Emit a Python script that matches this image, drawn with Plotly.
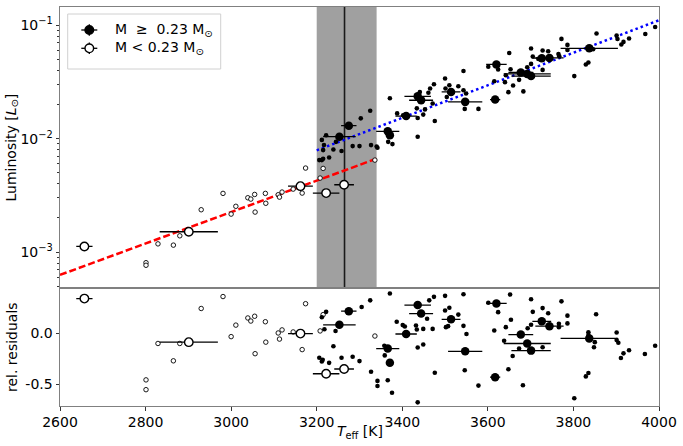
import plotly.graph_objects as go
from plotly.subplots import make_subplots

# ---------------- data ----------------
# massive stars (M >= 0.23 Msun), large symbols with x error bars
big_hi_T = [3253, 3275, 3366, 3371, 3409, 3436, 3444, 3514, 3547, 3617, 3620, 3677, 3692, 3701, 3726, 3744, 3837]
big_hi_Terr = [38, 18, 27, 8, 25, 31, 28, 22, 40, 12, 24, 29, 55, 46, 22, 33, 67]
big_hi_L = [1.04e-2, 1.30e-2, 1.16e-2, 1.07e-2, 1.58e-2, 2.36e-2, 2.18e-2, 2.58e-2, 2.11e-2, 2.21e-2,
            4.51e-2, 3.83e-2, 3.72e-2, 3.56e-2, 5.12e-2, 5.15e-2, 6.26e-2]
big_hi_res = [0.083, 0.217, -0.15, -0.29, -0.007, 0.277, 0.193, 0.137, -0.177, -0.43,
              0.293, -0.013, -0.10, -0.17, 0.117, 0.07, -0.05]

# low-mass stars (M < 0.23 Msun), large symbols with x error bars
big_lo_T = [2657, 2901, 3162, 3222, 3264]
big_lo_Terr = [19, 68, 29, 31, 23]
big_lo_L = [1.12e-3, 1.51e-3, 3.81e-3, 3.31e-3, 3.92e-3]
big_lo_res = [0.34, -0.087, -0.003, -0.397, -0.35]

# small open symbols (M < 0.23 Msun)
sm_lo_T = [2801, 2801, 2829, 2865, 2880, 2930, 2981, 3000, 3011, 3039, 3046, 3055, 3056, 3080,
           3081, 3110, 3113, 3119, 3145, 3166, 3174, 3208, 3215, 3336]
sm_lo_L = [8.05e-4, 7.64e-4, 1.18e-3, 1.15e-3, 1.39e-3, 2.36e-3, 3.29e-3, 2.16e-3, 2.53e-3, 3.01e-3,
           2.93e-3, 3.22e-3, 2.25e-3, 3.29e-3, 2.69e-3, 3.20e-3, 3.05e-3, 3.38e-3, 3.59e-3, 3.31e-3,
           5.50e-3, 4.49e-3, 5.46e-3, 6.47e-3]
sm_lo_res = [-0.457, -0.553, -0.10, -0.27, -0.10, 0.243, 0.36, -0.033, 0.08, 0.15, 0.12, 0.167, -0.20,
             0.113, -0.087, 0.003, -0.057, 0.033, 0.013, -0.16, 0.29, 0.023, 0.183, -0.027]

# small filled symbols (M >= 0.23 Msun), luminosity panel
sm_hi_T = [3206, 3212, 3215, 3229, 3212, 3222, 3215, 3217, 3245, 3239, 3258, 3303, 3325, 3284, 3300,
           3327, 3340, 3342, 3367, 3377, 3371, 3388, 3402, 3436, 3436, 3434, 3453, 3449, 3476, 3471,
           3441, 3465, 3474, 3461, 3500, 3510, 3531, 3543, 3501, 3504, 3543, 3549, 3546, 3578, 3601,
           3624, 3650, 3615, 3640, 3648, 3659, 3673, 3683, 3642, 3653, 3692, 3701, 3705, 3701, 3728,
           3741, 3728, 3718, 3765, 3767, 3772, 3786, 3786, 3802, 3829, 3835, 3846, 3854, 3901, 3903,
           3912, 3917, 3930, 3968, 3991]
sm_hi_L = [6.47e-3, 6.47e-3, 6.64e-3, 6.82e-3, 9.75e-3, 1.07e-2, 7.92e-3, 8.77e-3, 9.37e-3, 8.03e-3,
           7.77e-3, 1.51e-2, 1.76e-2, 8.59e-3, 8.59e-3, 8.77e-3, 8.53e-3, 8.30e-3, 9.37e-3, 8.95e-3,
           2.27e-2, 1.67e-2, 1.61e-2, 1.52e-2, 1.04e-2, 1.85e-2, 1.81e-2, 1.63e-2, 1.43e-2, 2.04e-2,
           2.58e-2, 2.77e-2, 3.02e-2, 2.54e-2, 3.39e-2, 2.96e-2, 2.90e-2, 3.95e-2, 2.77e-2, 2.33e-2,
           2.67e-2, 2.50e-2, 1.83e-2, 1.83e-2, 4.30e-2, 4.07e-2, 5.70e-2, 3.21e-2, 3.15e-2, 2.57e-2,
           2.94e-2, 3.30e-2, 2.61e-2, 3.62e-2, 4.09e-2, 4.26e-2, 4.56e-2, 5.30e-2, 6.24e-2, 5.99e-2,
           5.90e-2, 4.04e-2, 5.05e-2, 5.58e-2, 5.33e-2, 7.58e-2, 6.71e-2, 6.05e-2, 3.56e-2, 4.51e-2,
           4.69e-2, 6.15e-2, 8.45e-2, 8.11e-2, 7.57e-2, 6.76e-2, 7.13e-2, 7.64e-2, 8.38e-2, 9.66e-2]

# small filled symbols (M >= 0.23 Msun), residual panel
smr_hi_T = [3222, 3212, 3218, 3244, 3305, 3325, 3239, 3206, 3214, 3212, 3229, 3258, 3284, 3300, 3327,
            3342, 3342, 3366, 3376, 3359, 3358, 3371, 3387, 3401, 3406, 3436, 3449, 3432, 3434, 3449,
            3436, 3463, 3474, 3458, 3471, 3476, 3500, 3543, 3500, 3510, 3531, 3502, 3507, 3543, 3550,
            3546, 3578, 3601, 3624, 3652, 3615, 3654, 3642, 3638, 3658, 3648, 3682, 3673, 3693, 3701,
            3705, 3701, 3728, 3741, 3728, 3766, 3766, 3772, 3786, 3786, 3853, 3835, 3835, 3850, 3848,
            3829, 3835, 3802, 3901, 3901, 3905, 3911, 3917, 3930, 3967, 3991]
smr_hi_res = [0.21, 0.157, 0.04, 0.023, 0.257, 0.323, -0.127, -0.24, -0.26, -0.277, -0.29, -0.24, -0.23,
              -0.273, -0.377, -0.467, -0.517, -0.46, -0.583, -0.217, -0.123, 0.39, 0.113, 0.08, 0.067,
              -0.14, -0.11, 0.077, 0.037, 0.043, -0.677, 0.323, 0.357, 0.143, 0.043, -0.387, 0.367,
              0.383, 0.223, 0.25, 0.183, 0.06, 0.07, 0.073, -0.007, -0.363, -0.513, 0.30, 0.207, 0.38,
              0.027, 0.133, 0.06, -0.073, -0.223, -0.353, -0.51, -0.15, 0.05, 0.083, 0.21, 0.333,
              0.247, 0.197, -0.137, 0.093, 0.06, 0.313, 0.173, 0.097, 0.187, 0.01, -0.017, -0.087,
              -0.137, -0.423, -0.39, -0.637, 0.007, -0.067, -0.093, -0.243, -0.197, -0.167, -0.203, -0.123]

# fit lines
fit_lo_T = [2600, 3340]
fit_lo_L = [6.28e-4, 6.66e-3]
fit_hi_T = [3200, 4000]
fit_hi_L = [7.89e-3, 1.107e-1]

# shaded band and vertical line
band_T = [3200, 3340]
line_T = 3265

x_ticks = [2600, 2800, 3000, 3200, 3400, 3600, 3800, 4000]
ly_ticks = [1e-3, 1e-2, 1e-1]
ly_ticktext = ["10<sup>−3</sup>", "10<sup>−2</sup>", "10<sup>−1</sup>"]
minor_vals = [m * 10.0 ** e for e in (-4, -3, -2, -1) for m in range(2, 10)]
r_ticks = [-0.5, 0.0]
r_ticktext = ["-0.5", "0.0"]

# ---------------- figure ----------------
FONT = "DejaVu Sans"
fig = make_subplots(rows=2, cols=1, shared_xaxes=True, vertical_spacing=0)

err_style = dict(type="data", width=0, thickness=1.3, color="black")

# upper panel
fig.add_trace(go.Scatter(x=fit_lo_T, y=fit_lo_L, mode="lines",
                         line=dict(color="red", width=2.5, dash="7px,3px")), row=1, col=1)
fig.add_trace(go.Scatter(x=fit_hi_T, y=fit_hi_L, mode="lines",
                         line=dict(color="blue", width=2.5, dash="2.5px,3px")), row=1, col=1)
fig.add_trace(go.Scatter(x=sm_lo_T, y=sm_lo_L, mode="markers",
                         marker=dict(size=4.5, color="white", line=dict(color="black", width=0.9))), row=1, col=1)
fig.add_trace(go.Scatter(x=sm_hi_T, y=sm_hi_L, mode="markers",
                         marker=dict(size=4.6, color="black", line=dict(width=0))), row=1, col=1)
fig.add_trace(go.Scatter(x=big_lo_T, y=big_lo_L, mode="markers", error_x=dict(array=big_lo_Terr, **err_style),
                         marker=dict(size=8.5, color="white", line=dict(color="black", width=1.4))), row=1, col=1)
fig.add_trace(go.Scatter(x=big_hi_T, y=big_hi_L, mode="markers", error_x=dict(array=big_hi_Terr, **err_style),
                         marker=dict(size=8.5, color="black", line=dict(width=0))), row=1, col=1)

# lower panel
fig.add_trace(go.Scatter(x=sm_lo_T, y=sm_lo_res, mode="markers",
                         marker=dict(size=4.5, color="white", line=dict(color="black", width=0.9))), row=2, col=1)
fig.add_trace(go.Scatter(x=smr_hi_T, y=smr_hi_res, mode="markers",
                         marker=dict(size=4.6, color="black", line=dict(width=0))), row=2, col=1)
fig.add_trace(go.Scatter(x=big_lo_T, y=big_lo_res, mode="markers", error_x=dict(array=big_lo_Terr, **err_style),
                         marker=dict(size=8.5, color="white", line=dict(color="black", width=1.4))), row=2, col=1)
fig.add_trace(go.Scatter(x=big_hi_T, y=big_hi_res, mode="markers", error_x=dict(array=big_hi_Terr, **err_style),
                         marker=dict(size=8.5, color="black", line=dict(width=0))), row=2, col=1)

axis_common = dict(showline=True, mirror=True, linecolor="#808080", linewidth=1,
                   ticklen=3.5, tickwidth=1, tickcolor="#333", automargin=False,
                   showgrid=False, zeroline=False,
                   tickfont=dict(family=FONT, size=14, color="black"))

PH = 399.0
lower_frac = 117.7 / PH

fig.update_layout(
    width=683, height=446,
    margin=dict(l=60, r=24, t=7, b=40),
    paper_bgcolor="white", plot_bgcolor="white",
    showlegend=False,
    font=dict(family=FONT, size=14, color="black"),
    xaxis=dict(range=[2600, 4000], showticklabels=False, ticks="", **axis_common),
    xaxis2=dict(range=[2600, 4000], tickmode="array", tickvals=x_ticks, ticks="outside", **axis_common),
    yaxis=dict(type="log", range=[-3.320, -0.839], domain=[lower_frac, 1], ticks="outside",
               tickmode="array", tickvals=ly_ticks, ticktext=ly_ticktext,
               minor=dict(tickmode="array", tickvals=minor_vals, ticks="outside", ticklen=2, tickcolor="#333"),
               **axis_common),
    yaxis2=dict(range=[-0.713, 0.441], domain=[0, lower_frac], ticks="outside",
                tickmode="array", tickvals=r_ticks, ticktext=r_ticktext,
                **axis_common),
)

shapes = [
    dict(type="rect", xref="x", yref="y domain", x0=band_T[0], x1=band_T[1], y0=0, y1=1,
         fillcolor="#a0a0a0", line=dict(width=0), layer="below"),
    dict(type="line", xref="x", yref="y domain", x0=line_T, x1=line_T, y0=0, y1=1,
         line=dict(color="#1a1a1a", width=1.6), layer="below"),
]

# helpers: page pixel -> paper coordinates
def px_x(p):
    return (p - 60) / 599.0

def px_y(p):
    return (406 - p) / PH

annotations = [
    dict(xref="paper", yref="paper", x=px_x(359.5), y=px_y(432), xanchor="center", yanchor="middle",
         text="<i>T</i><sub>eff</sub> [K]", showarrow=False, font=dict(family=FONT, size=14, color="black")),
    dict(xref="paper", yref="paper", x=px_x(12), y=px_y(147.5), xanchor="center", yanchor="middle",
         textangle=-90, text="Luminosity [<i>L</i><sub>⊙</sub>]", showarrow=False,
         font=dict(family=FONT, size=14, color="black")),
    dict(xref="paper", yref="paper", x=px_x(12), y=px_y(347), xanchor="center", yanchor="middle",
         textangle=-90, text="rel. residuals", showarrow=False,
         font=dict(family=FONT, size=14, color="black")),
]

# manual legend
shapes.append(dict(type="rect", xref="paper", yref="paper", x0=px_x(67.7), x1=px_x(220.7),
                   y0=px_y(69), y1=px_y(14), fillcolor="rgba(255,255,255,0.85)",
                   line=dict(color="#d0d0d0", width=1)))
legend_entries = [(30.0, "black", "M  ≥  0.23 M<sub>⊙</sub>"), (48.3, "white", "M < 0.23 M<sub>⊙</sub>")]
for yy, fc, txt in legend_entries:
    cx = px_x(89.3)
    cy = px_y(yy)
    shapes.append(dict(type="line", xref="paper", yref="paper", x0=px_x(81.3), x1=px_x(97.3), y0=cy, y1=cy,
                       line=dict(color="black", width=1.3)))
    shapes.append(dict(type="line", xref="paper", yref="paper", x0=cx, x1=cx, y0=px_y(yy + 5.7), y1=px_y(yy - 5.7),
                       line=dict(color="black", width=1.3)))
    shapes.append(dict(type="circle", xref="paper", yref="paper", xsizemode="pixel", ysizemode="pixel",
                       xanchor=cx, yanchor=cy, x0=-4.3, x1=4.3, y0=-4.3, y1=4.3,
                       fillcolor=fc, line=dict(color="black", width=1.4)))
    annotations.append(dict(xref="paper", yref="paper", x=px_x(113), y=cy, xanchor="left", yanchor="middle",
                            text=txt, showarrow=False, font=dict(family=FONT, size=14, color="black")))

fig.update_layout(shapes=shapes, annotations=annotations)

# remove the default 8px page margin so the figure sits at the window's top-left corner
fig.write_html("out.html", config={"displayModeBar": False},
               post_script="document.body.style.margin='0px';")
